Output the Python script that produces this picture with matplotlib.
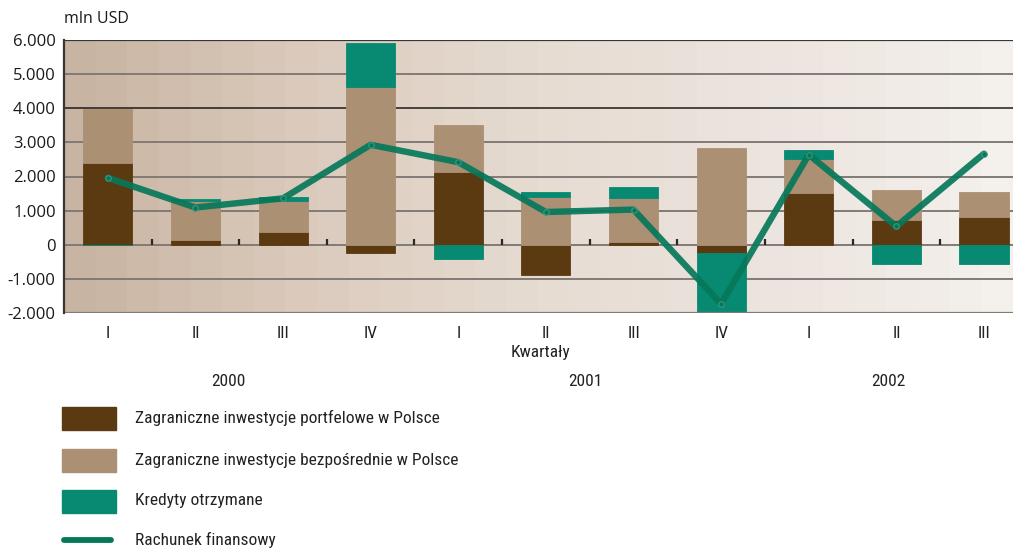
import numpy as np
import matplotlib
matplotlib.use("Agg")
import matplotlib.pyplot as plt
from matplotlib import font_manager
from matplotlib.patches import Rectangle
from matplotlib.lines import Line2D
from matplotlib.colors import LinearSegmentedColormap

# ---------------- data ----------------
quarters = ["I", "II", "III", "IV", "I", "II", "III", "IV", "I", "II", "III"]
years = ["2000", "2001", "2002"]
portfolio = [2390, 140, 370, -230, 2120, -880, 80, -250, 1520, 720, 810]
direct = [1600, 1140, 920, 4620, 1400, 1400, 1290, 2840, 990, 880, 750]
credits = [-20, 70, 100, 1280, -410, 160, 310, -1720, 270, -560, -560]
financial = [1960, 1090, 1360, 2930, 2420, 960, 1030, -1730, 2640, 540, 2670]
series_names = ["Zagraniczne inwestycje portfelowe w Polsce",
                "Zagraniczne inwestycje bezpośrednie w Polsce",
                "Kredyty otrzymane",
                "Rachunek finansowy"]
yticks = [-2000, -1000, 0, 1000, 2000, 3000, 4000, 5000, 6000]

# ---------------- fonts ----------------
avail = {f.name for f in font_manager.fontManager.ttflist}
def pick(cands):
    for c in cands:
        if c in avail:
            return c
    return "DejaVu Sans"
narrow = pick(["Liberation Sans Narrow", "DejaVu Sans Condensed", "Roboto Condensed", "Open Sans"])
regular = pick(["Open Sans", "Noto Sans", "Lato", "DejaVu Sans"])

c_port = "#5c3a11"
c_direct = "#ab9074"
c_credit = "#078a71"
c_line = "#06785a"

fig = plt.figure(figsize=(10.14, 5.52), dpi=100)
ax = fig.add_axes([64/1014, 1-313/552, (1013-64)/1014, (313-40)/552])

x = np.arange(len(quarters))
xl = (-0.5, (1013 - 108) / 87.6)
ax.set_xlim(*xl)
ax.set_ylim(-2000, 6000)

# background gradient (banded)
cmap = LinearSegmentedColormap.from_list("bg", ["#c8b4a2", "#dccbbd", "#e6dcd2", "#ece4de", "#f4f0ec"])
grad = np.linspace(0, 1, 30).reshape(1, -1)
ax.imshow(grad, cmap=cmap, extent=(xl[0], xl[1], -2000, 6000), aspect="auto", zorder=0,
          interpolation="nearest")

# gridlines
for t in yticks:
    col = "#1e1a18" if t in (4000,) else "#827a76"
    lw = 1.1 if t == 4000 else 1.4
    if t == 6000:
        col, lw = "#3a3634", 1.6
    ax.axhline(t, color=col, lw=lw, zorder=1)

# stacked bars (positives up, negatives down)
w = 0.56
pos_base = np.zeros(len(x))
neg_base = np.zeros(len(x))
for vals, col in [(portfolio, c_port), (direct, c_direct), (credits, c_credit)]:
    v = np.array(vals, dtype=float)
    base = np.where(v >= 0, pos_base, neg_base)
    ax.bar(x, v, w, bottom=base, color=col, edgecolor=col, linewidth=0.6, zorder=2)
    pos_base = pos_base + np.where(v >= 0, v, 0)
    neg_base = neg_base + np.where(v < 0, v, 0)

# line
ax.plot(x, financial, color=c_line, lw=4.6, alpha=0.92, solid_capstyle="round",
        solid_joinstyle="round", zorder=4)
ax.plot(x, financial, ls="none", marker="o", ms=4, mfc=c_line, mec="#3a9a80", mew=0.8, zorder=5)

# small ticks at category boundaries on zero line
bounds = np.arange(len(quarters) - 1) + 0.5
ax.vlines(bounds, 0, 170, color="#2a2624", lw=1.6, zorder=3)

# axes styling
for s in ["right", "bottom"]:
    ax.spines[s].set_visible(False)
ax.spines["top"].set_visible(False)
ax.spines["left"].set_color("#3a3634")
ax.spines["left"].set_linewidth(1.6)
ax.spines["left"].set_zorder(6)
ax.axhline(-2000, color="#827a76", lw=1.6, zorder=6)

ax.set_yticks(yticks)
ax.set_yticklabels([f"{t:,}".replace(",", ".") for t in yticks], fontsize=12,
                   family=regular, color="#1a1a1a")
ax.tick_params(axis="y", length=0, pad=6)
ax.set_xticks(x)
ax.set_xticklabels(quarters, fontsize=12.5, family=narrow, color="#222222")
ax.tick_params(axis="x", length=0, pad=9)

fig.text(64/1014, 1-19/552, "mln USD", fontsize=11.5, family=regular, color="#1a1a1a",
         ha="left", va="center")
fig.text(540/1014, 1-353/552, "Kwartały", fontsize=12.5, family=narrow, color="#222222",
         ha="center", va="center")
for yr, px in zip(years, [228, 585, 888]):
    fig.text(px/1014, 1-382/552, yr, fontsize=12.5, family=narrow, color="#222222",
             ha="center", va="center")

# legend (manual)
leg_y = [418, 460, 501, 540]
for name, col, yy, kind in zip(series_names, [c_port, c_direct, c_credit, c_line], leg_y,
                               ["p", "p", "p", "l"]):
    if kind == "p":
        fig.patches.append(Rectangle((62/1014, 1-(yy+11.5)/552), 54/1014, 23/552,
                                     transform=fig.transFigure, color=col))
    else:
        fig.lines.append(Line2D([64/1014, 111/1014], [1-yy/552, 1-yy/552],
                                transform=fig.transFigure, color=col, lw=4.2,
                                solid_capstyle="round"))
    fig.text(135/1014, 1-yy/552, name, fontsize=12.5, family=narrow, color="#222222",
             ha="left", va="center")

fig.savefig("out.png", dpi=100)
